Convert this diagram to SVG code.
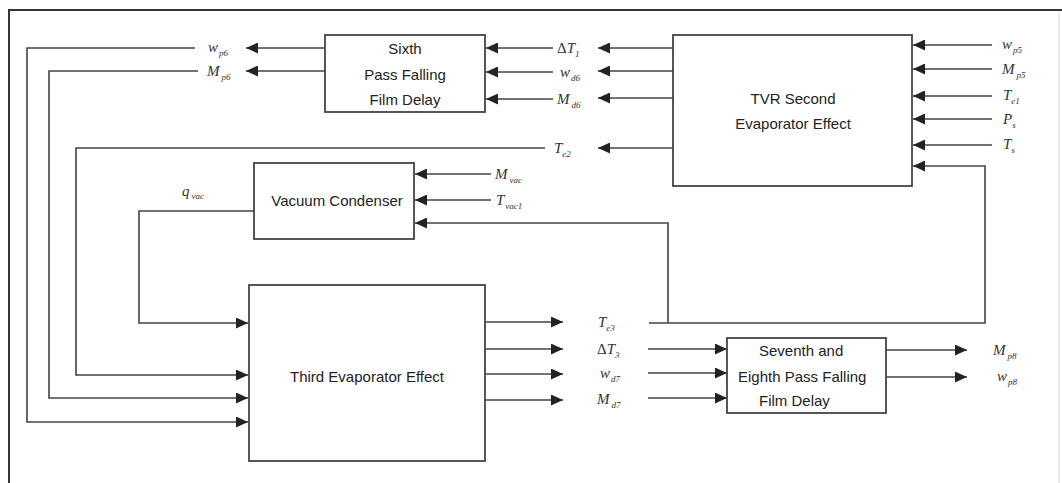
<svg xmlns="http://www.w3.org/2000/svg" width="1062" height="483" viewBox="0 0 1062 483">
<style>
.box{fill:#fff;stroke:#444;stroke-width:1.8}
.ln{fill:none;stroke:#444;stroke-width:1.6}
.t{font-family:"Liberation Sans",Arial,sans-serif;font-size:15px;fill:#222}
.v{font-family:"Liberation Serif","Times New Roman",serif;font-style:italic;font-size:15px;fill:#333}
.s{font-size:9px}
.n{font-style:normal}
</style>
<defs>
<marker id="ah" markerUnits="userSpaceOnUse" markerWidth="13" markerHeight="11" refX="12" refY="5.5" orient="auto">
<path d="M0,0 L12,5.5 L0,11 z" fill="#222"/>
</marker>
</defs>
<rect width="1062" height="483" fill="#fff"/>
<path d="M9,483 V10 H1062" fill="none" stroke="#333" stroke-width="2"/>
<path d="M1059,12 V483" fill="none" stroke="#e4e4e4" stroke-width="1.5"/>

<g id="connectors">
<path class="ln" d="M325,48 H246" marker-end="url(#ah)"/>
<path class="ln" d="M325,71 H246" marker-end="url(#ah)"/>
<path class="ln" d="M195,48 H27 V422 H248" marker-end="url(#ah)"/>
<path class="ln" d="M198,71 H49 V398 H248" marker-end="url(#ah)"/>
<path class="ln" d="M545,148 H76 V375 H248" marker-end="url(#ah)"/>
<path class="ln" d="M254,211 H139 V323 H248" marker-end="url(#ah)"/>
<path class="ln" d="M673,48 H598" marker-end="url(#ah)"/>
<path class="ln" d="M673,71 H598" marker-end="url(#ah)"/>
<path class="ln" d="M673,98 H598" marker-end="url(#ah)"/>
<path class="ln" d="M673,148 H598" marker-end="url(#ah)"/>
<path class="ln" d="M553,48 H486" marker-end="url(#ah)"/>
<path class="ln" d="M553,72 H486" marker-end="url(#ah)"/>
<path class="ln" d="M553,99 H486" marker-end="url(#ah)"/>
<path class="ln" d="M992,45 H913" marker-end="url(#ah)"/>
<path class="ln" d="M992,69 H913" marker-end="url(#ah)"/>
<path class="ln" d="M992,96 H913" marker-end="url(#ah)"/>
<path class="ln" d="M992,119 H913" marker-end="url(#ah)"/>
<path class="ln" d="M992,145 H913" marker-end="url(#ah)"/>
<path class="ln" d="M649,323 H985 V166 H913" marker-end="url(#ah)"/>
<path class="ln" d="M491,174 H415" marker-end="url(#ah)"/>
<path class="ln" d="M491,200 H415" marker-end="url(#ah)"/>
<path class="ln" d="M668,323 V223 H415" marker-end="url(#ah)"/>
<path class="ln" d="M485,322 H563" marker-end="url(#ah)"/>
<path class="ln" d="M485,349 H563" marker-end="url(#ah)"/>
<path class="ln" d="M485,374 H563" marker-end="url(#ah)"/>
<path class="ln" d="M485,400 H563" marker-end="url(#ah)"/>
<path class="ln" d="M648,349 H727" marker-end="url(#ah)"/>
<path class="ln" d="M648,373 H727" marker-end="url(#ah)"/>
<path class="ln" d="M648,398 H727" marker-end="url(#ah)"/>
<path class="ln" d="M886,350 H967" marker-end="url(#ah)"/>
<path class="ln" d="M886,377 H967" marker-end="url(#ah)"/>
</g>

<g id="sixth-pass">
<rect class="box" x="325" y="35" width="160" height="77"/>
<text class="t" x="405" y="54" text-anchor="middle">Sixth</text>
<text class="t" x="405" y="80" text-anchor="middle">Pass Falling</text>
<text class="t" x="405" y="105" text-anchor="middle">Film Delay</text>
</g>

<g id="tvr-second">
<rect class="box" x="673" y="35" width="239" height="151"/>
<text class="t" x="793" y="104" text-anchor="middle">TVR Second</text>
<text class="t" x="793" y="129" text-anchor="middle">Evaporator Effect</text>
</g>

<g id="vacuum-condenser">
<rect class="box" x="254" y="163" width="160" height="76"/>
<text class="t" x="337" y="206" text-anchor="middle">Vacuum Condenser</text>
</g>

<g id="third-evaporator">
<rect class="box" x="249" y="285" width="236" height="176"/>
<text class="t" x="367" y="382" text-anchor="middle">Third Evaporator Effect</text>
</g>

<g id="seventh-eighth">
<rect class="box" x="727" y="338" width="159" height="75"/>
<text class="t" x="759" y="356">Seventh and</text>
<text class="t" x="738" y="382">Eighth Pass Falling</text>
<text class="t" x="759" y="406">Film Delay</text>
</g>

<g id="labels">
<text class="v" x="208" y="52">w<tspan class="s" dx="1" dy="4">p6</tspan></text>
<text class="v" x="207" y="76">M<tspan class="s" dx="2" dy="4">p6</tspan></text>
<text class="v" x="557" y="53"><tspan class="n">Δ</tspan>T<tspan class="s" dy="4">1</tspan></text>
<text class="v" x="560" y="77">w<tspan class="s" dx="1" dy="4">d6</tspan></text>
<text class="v" x="557" y="104">M<tspan class="s" dx="2" dy="4">d6</tspan></text>
<text class="v" x="554" y="153">T<tspan class="s" dy="4">e2</tspan></text>
<text class="v" x="495" y="179">M<tspan class="s" dx="2" dy="4">vac</tspan></text>
<text class="v" x="496" y="205">T<tspan class="s" dx="1" dy="4">vac1</tspan></text>
<text class="v" x="182" y="196">q<tspan class="s" dx="2" dy="3">vac</tspan></text>
<text class="v" x="1002" y="49">w<tspan class="s" dx="1" dy="4">p5</tspan></text>
<text class="v" x="1002" y="74">M<tspan class="s" dx="2" dy="4">p5</tspan></text>
<text class="v" x="1003" y="100">T<tspan class="s" dy="4">e1</tspan></text>
<text class="v" x="1003" y="124">P<tspan class="s" dy="4">s</tspan></text>
<text class="v" x="1003" y="149">T<tspan class="s" dy="4">s</tspan></text>
<text class="v" x="598" y="327">T<tspan class="s" dy="4">e3</tspan></text>
<text class="v" x="597" y="354"><tspan class="n">Δ</tspan>T<tspan class="s" dy="4">3</tspan></text>
<text class="v" x="600" y="378">w<tspan class="s" dx="1" dy="4">d7</tspan></text>
<text class="v" x="597" y="404">M<tspan class="s" dx="2" dy="4">d7</tspan></text>
<text class="v" x="993" y="355">M<tspan class="s" dx="2" dy="4">p8</tspan></text>
<text class="v" x="997" y="381">w<tspan class="s" dx="1" dy="4">p8</tspan></text>
</g>
</svg>
